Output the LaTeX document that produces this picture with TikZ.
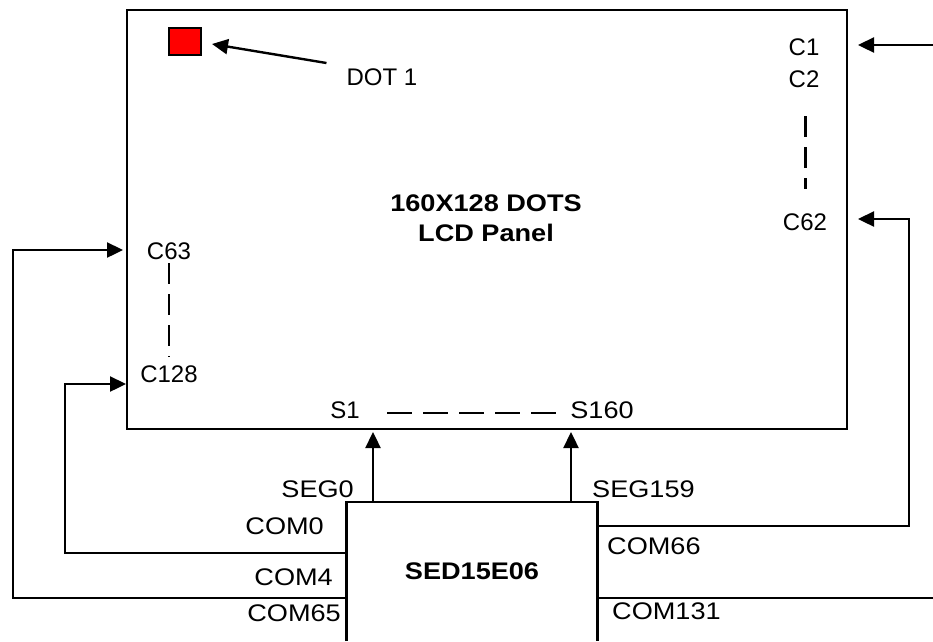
\documentclass[tikz,border=0pt]{standalone}
\usepackage{fontspec}
\setmainfont{Liberation Sans}
\newfontfamily\widefont[FakeStretch=1.13]{Liberation Sans}
\usepackage{tikz}
\usetikzlibrary{arrows.meta, positioning, calc}
\tikzset{
  pnl/.style ={rectangle, draw, line width=2.4pt, anchor=north west, inner sep=0pt, outer sep=0pt, minimum width=720pt, minimum height=419pt},
  drv/.style ={rectangle, inner sep=0pt, minimum width=250.5pt, minimum height=139pt, align=center, font=\widefont\fontsize{24}{28}\selectfont\bfseries},
  dot/.style ={rectangle, draw, line width=2.4pt, fill=red, inner sep=0pt, outer sep=0pt, minimum width=32pt, minimum height=27pt},
  lbl/.style ={inner sep=0pt, font=\fontsize{24}{28}\selectfont},
  pin/.style ={inner sep=0pt, font=\widefont\fontsize{24}{28}\selectfont},
  wr/.style  ={line width=2.4pt},
  fl/.style  ={wr, -{Triangle[length=16pt, width=15pt]}},
  gap/.style ={line width=2.4pt, dash pattern=on 21pt off 10pt},
}
\begin{document}
\begin{tikzpicture}[x=1pt, y=-1pt]
  \useasboundingbox (0,0) rectangle (933,641);
  \node[pnl] (panel) at (127,10) {};
  \node[dot, below right=18pt and 42pt of panel.north west] (dot1) {};
  \node[lbl] (dotlbl) at (382,77) {DOT 1};
  \node[align=center, inner sep=0pt, font=\widefont\fontsize{24}{30}\selectfont\bfseries] (title) at (486,218) {160X128 DOTS\\LCD Panel};
  \node[lbl] (c1) at (804,47) {C1};
  \node[lbl, below=15pt of c1] (c2) {C2};
  \node[lbl] (c62) at (805,222) {C62};
  \node[lbl] (c63) at (169,251) {C63};
  \node[lbl] (c128) at (169,374) {C128};
  \node[lbl] (s1) at (345,410) {S1};
  \node[pin] (s160) at (602,410) {S160};
  \node[drv] (chip) at (472,571.5) {SED15E06};
  \node[pin, anchor=east] (seg0) at (354,489) {SEG0};
  \node[pin, anchor=west] (seg159) at (592,489) {SEG159};
  \node[pin, anchor=east] (com0) at (324,526) {COM0};
  \node[pin, anchor=east] (com4) at (333,577) {COM4};
  \node[pin, anchor=east] (com65) at (341,613) {COM65};
  \node[pin, anchor=west] (com66) at (607,546) {COM66};
  \node[pin, anchor=west] (com131) at (612,611) {COM131};
  % corners of the wires
  \coordinate (inC1) at (933,45);
  \coordinate (outCom131) at (933,598);
  \coordinate (tipC1) at (858,45);
  \coordinate (tipC62) at (858,219);
  \coordinate (tipC63) at (123,250);
  \coordinate (tipC128) at (126,384);
  \coordinate (tipS1) at (373,432);
  \coordinate (tipS160) at (571,432);
  \draw[wr] (chip.south west) -- (chip.north west) -- (chip.north east) -- (chip.south east);
  \draw[fl] ($(dotlbl.west)+(-20,-14)$) -- ($(dot1.east)+(11,2.5)$);
  \draw[fl] (inC1) -- (tipC1);
  \draw[fl] (chip.west |- 0,553) -- (65,553) |- (tipC128);
  \draw[fl] (chip.west |- 0,598) -- (13,598) |- (tipC63);
  \draw[fl] (chip.east |- 0,526) -- (909,526) |- (tipC62);
  \draw[wr] (chip.east |- 0,598) -- (outCom131);
  \draw[fl] (tipS1 |- chip.north) -- (tipS1);
  \draw[fl] (tipS160 |- chip.north) -- (tipS160);
  \draw[gap] (805.5,116) -- (805.5,189);
  \draw[gap] (169,263) -- (169,357);
  \draw[gap, line width=2pt, dash pattern=on 25pt off 11pt] (387,412.5) -- (556,412.5);
\end{tikzpicture}
\end{document}
